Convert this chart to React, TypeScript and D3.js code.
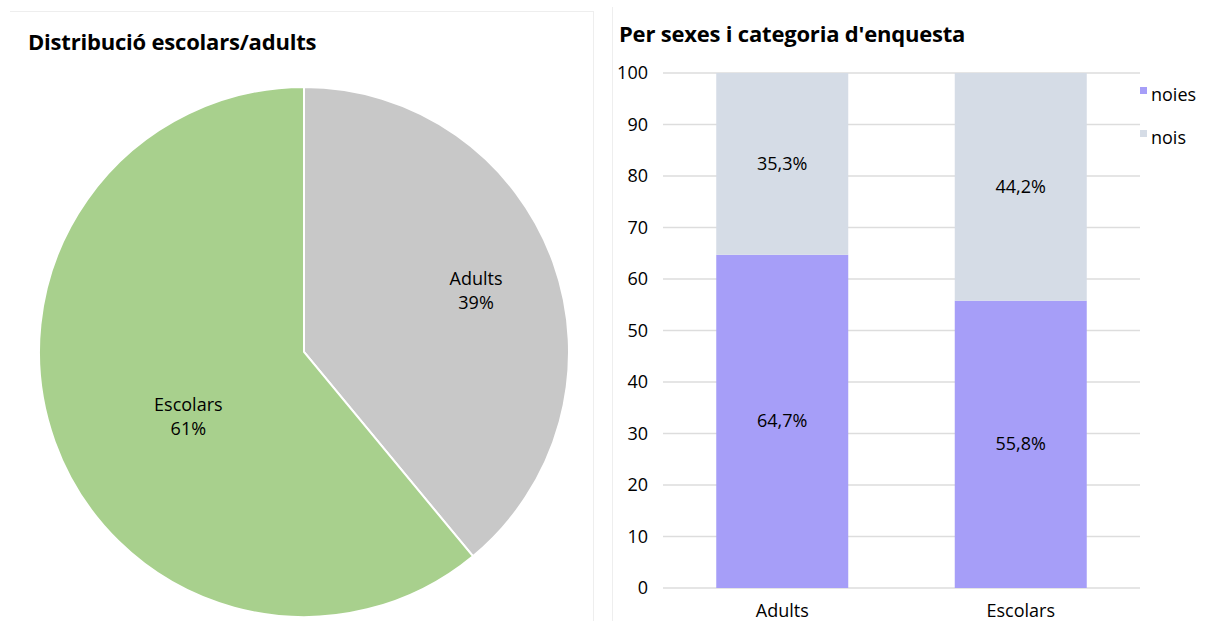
import React from "react";
import * as d3 from "d3";

const pieLabels = ["Adults", "Escolars"];
const pieValues = [39, 61];
const pieColors = ["#c8c8c8", "#a8d08d"];

const categories = ["Adults", "Escolars"];
const noies = [64.7, 55.8];
const nois = [35.3, 44.2];
const seriesNames = ["noies", "nois"];
const seriesColors = ["#a69ef8", "#d5dce6"];
const yTicks = [0, 10, 20, 30, 40, 50, 60, 70, 80, 90, 100];

const FONT = "'Open Sans', Lato, sans-serif";

export default function App() {
  const W = 1219, H = 621;
  const cx = 304, cy = 352, r = 265;
  const pie = d3.pie<number>().sort(null).value((d) => d);
  const arcs = pie(pieValues);
  const arcGen = d3.arc<d3.PieArcDatum<number>>().innerRadius(0).outerRadius(r);
  const labelRadii = [0.69, 0.52];
  const labelShift = [[0, 1], [14, 18]];

  const xb = d3.scaleBand<string>().domain(categories).range([663, 1140]);
  const bw = 132;
  const y = d3.scaleLinear().domain([0, 100]).range([588, 73]);

  const fmt = (v: number) => v.toFixed(1).replace(".", ",") + "%";
  const FS = 18;

  return (
    <svg width={W} height={H} style={{ position: "absolute", left: 0, top: 0, background: "#fff" }} fontFamily={FONT}>
      <line x1={10} x2={593} y1={11.5} y2={11.5} stroke="#eeeeee" />
      <line x1={593.5} x2={593.5} y1={11} y2={621} stroke="#eeeeee" />
      <line x1={612.5} x2={612.5} y1={7} y2={621} stroke="#eeeeee" />

      <text x={28} y={50} fontSize={22} fontWeight="bold" fill="#000" letterSpacing={-0.2}>Distribució escolars/adults</text>
      <text x={619} y={42} fontSize={22} fontWeight="bold" fill="#000" letterSpacing={-0.2}>Per sexes i categoria d'enquesta</text>

      <g transform={`translate(${cx},${cy})`}>
        {arcs.map((a, i) => (
          <path key={i} d={arcGen(a) || ""} fill={pieColors[i]} stroke="#fff" strokeWidth={2} />
        ))}
        {arcs.map((a, i) => {
          const la = d3.arc<d3.PieArcDatum<number>>().innerRadius(r * labelRadii[i]).outerRadius(r * labelRadii[i]);
          const [lx0, ly0] = la.centroid(a);
          const lx = lx0 + labelShift[i][0];
          const ly = ly0 + labelShift[i][1];
          return (
            <text key={"l" + i} x={lx} y={ly} textAnchor="middle" fontSize={FS} fill="#000">
              <tspan x={lx} dy={-6}>{pieLabels[i]}</tspan>
              <tspan x={lx} dy={24}>{pieValues[i]}%</tspan>
            </text>
          );
        })}
      </g>

      {yTicks.map((t) => (
        <g key={t}>
          <line x1={663} x2={1140} y1={y(t)} y2={y(t)} stroke="#dddddd" strokeWidth={1.5} />
          <text x={648} y={y(t) + 6} textAnchor="end" fontSize={FS} fill="#000">{t}</text>
        </g>
      ))}

      {categories.map((c, i) => {
        const cxb = (xb(c) as number) + xb.bandwidth() / 2;
        const x0 = cxb - bw / 2;
        return (
          <g key={c}>
            <rect x={x0} y={y(noies[i])} width={bw} height={y(0) - y(noies[i])} fill={seriesColors[0]} />
            <rect x={x0} y={y(noies[i] + nois[i])} width={bw} height={y(noies[i]) - y(noies[i] + nois[i])} fill={seriesColors[1]} />
            <text x={cxb} y={(y(0) + y(noies[i])) / 2 + 6} textAnchor="middle" fontSize={FS} fill="#000">{fmt(noies[i])}</text>
            <text x={cxb} y={(y(noies[i]) + y(noies[i] + nois[i])) / 2 + 6} textAnchor="middle" fontSize={FS} fill="#000">{fmt(nois[i])}</text>
            <text x={cxb} y={617} textAnchor="middle" fontSize={FS} fill="#000">{c}</text>
          </g>
        );
      })}

      {seriesNames.map((s, i) => (
        <g key={s}>
          <rect x={1140} y={87 + i * 43} width={7} height={7} fill={seriesColors[i]} />
          <text x={1151} y={101 + i * 43} fontSize={FS} fill="#000">{s}</text>
        </g>
      ))}
    </svg>
  );
}
